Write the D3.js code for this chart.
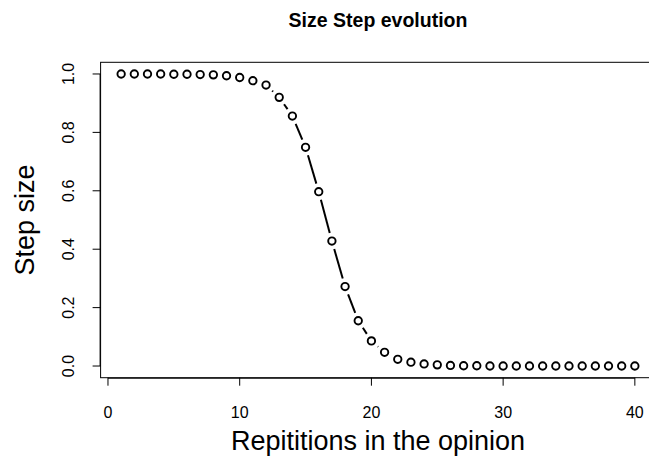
<!DOCTYPE html>
<html>
<head>
<meta charset="utf-8">
<script src="https://cdn.jsdelivr.net/npm/d3@7"></script>
<style>
  body { margin: 0; background: #fff; }
  svg { display: block; font-family: "Liberation Sans", Arial, sans-serif; }
</style>
</head>
<body>
<div id="chart"></div>
<script>
// repetitions 1..40 and the step size
const reps = d3.range(1, 41);
const stepSize = [
  1.000, 1.000, 1.000, 1.000, 0.999, 0.999, 0.998, 0.997, 0.994, 0.988,
  0.977, 0.962, 0.920, 0.856, 0.749, 0.597, 0.428, 0.272, 0.155, 0.086,
  0.047, 0.023, 0.013, 0.007, 0.004, 0.002, 0.001, 0.001, 0.000, 0.000,
  0.000, 0.000, 0.000, 0.000, 0.000, 0.000, 0.000, 0.000, 0.000, 0.000
];
const xTicks = [0, 10, 20, 30, 40];
const yTicks = [0, 0.2, 0.4, 0.6, 0.8, 1.0];

const width = 649, height = 460;
const svg = d3.select('#chart').append('svg').attr('width', width).attr('height', height);

// plot region (right edge runs off the picture, as in the original)
const pLeft = 100.6, pRight = 655.4, pTop = 62.3, pBottom = 377.7;
const x = d3.scaleLinear().domain([-0.56, 41.56]).range([pLeft, pRight]);
const y = d3.scaleLinear().domain([-0.04, 1.04]).range([pBottom, pTop]);

svg.append('rect')
  .attr('x', pLeft).attr('y', pTop)
  .attr('width', pRight - pLeft).attr('height', pBottom - pTop)
  .attr('fill', 'none').attr('stroke', '#000').attr('stroke-width', 1);

// x axis
const xa = svg.append('g');
xa.append('line')
  .attr('x1', x(0)).attr('x2', x(40))
  .attr('y1', pBottom + 0.5).attr('y2', pBottom + 0.5)
  .attr('stroke', '#000');
xa.selectAll('.tk').data(xTicks).enter().append('line')
  .attr('x1', d => x(d)).attr('x2', d => x(d))
  .attr('y1', pBottom).attr('y2', pBottom + 8)
  .attr('stroke', '#000');
xa.selectAll('text').data(xTicks).enter().append('text')
  .attr('x', d => x(d)).attr('y', 418)
  .attr('text-anchor', 'middle').attr('font-size', 16)
  .text(d => d);

// y axis
const ya = svg.append('g');
ya.append('line')
  .attr('x1', pLeft - 0.5).attr('x2', pLeft - 0.5)
  .attr('y1', y(0)).attr('y2', y(1))
  .attr('stroke', '#000');
ya.selectAll('.tk').data(yTicks).enter().append('line')
  .attr('x1', pLeft - 8).attr('x2', pLeft)
  .attr('y1', d => y(d)).attr('y2', d => y(d))
  .attr('stroke', '#000');
ya.selectAll('text').data(yTicks).enter().append('text')
  .attr('transform', d => `translate(74,${y(d)}) rotate(-90)`)
  .attr('text-anchor', 'middle').attr('font-size', 16)
  .text(d => d3.format('.1f')(d));

// titles
svg.append('text')
  .attr('x', (pLeft + pRight) / 2).attr('y', 27)
  .attr('text-anchor', 'middle').attr('font-size', 19.5).attr('font-weight', 'bold')
  .text('Size Step evolution');
svg.append('text')
  .attr('x', (pLeft + pRight) / 2).attr('y', 450)
  .attr('text-anchor', 'middle').attr('font-size', 27)
  .text('Repititions in the opinion');
svg.append('text')
  .attr('transform', `translate(34,${(pTop + pBottom) / 2}) rotate(-90)`)
  .attr('text-anchor', 'middle').attr('font-size', 27)
  .text('Step size');

// type = "b": segments with gaps around each point
const pts = reps.map((r, i) => [x(r), y(stepSize[i])]);
const gap = 8.4;
const segs = [];
for (let i = 0; i < pts.length - 1; i++) {
  const [x0, y0] = pts[i], [x1, y1] = pts[i + 1];
  const len = Math.hypot(x1 - x0, y1 - y0);
  if (len <= 2 * gap) continue;
  const ux = (x1 - x0) / len, uy = (y1 - y0) / len;
  segs.push([x0 + ux * gap, y0 + uy * gap, x1 - ux * gap, y1 - uy * gap]);
}
svg.append('g').selectAll('line').data(segs).enter().append('line')
  .attr('x1', d => d[0]).attr('y1', d => d[1])
  .attr('x2', d => d[2]).attr('y2', d => d[3])
  .attr('stroke', '#000').attr('stroke-width', 2);

svg.append('g').selectAll('circle').data(reps).enter().append('circle')
  .attr('cx', d => x(d)).attr('cy', (d, i) => y(stepSize[i]))
  .attr('r', 3.7)
  .attr('fill', 'none').attr('stroke', '#000').attr('stroke-width', 1.9);
</script>
</body>
</html>
